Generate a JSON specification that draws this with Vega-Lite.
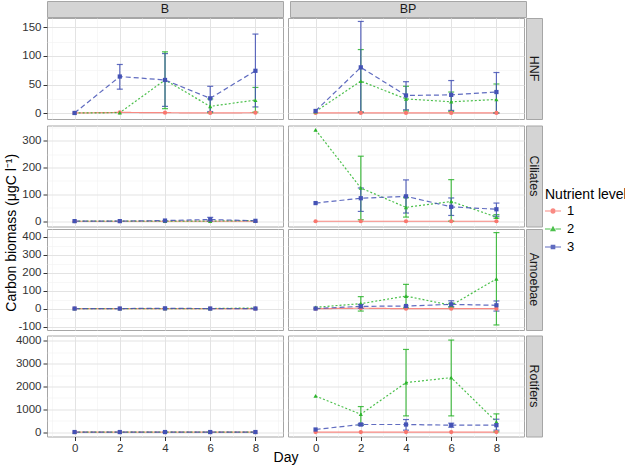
{
  "$schema": "https://vega.github.io/schema/vega-lite/v6.json",
  "padding": {"left": 4, "top": 0, "right": 0, "bottom": 0},
  "autosize": {"type": "pad"},
  "title": {"text": "Carbon biomass (μgC l⁻¹)", "orient": "left", "anchor": "middle", "frame": "bounds", "font": "Liberation Sans", "fontSize": 14, "fontWeight": "normal", "color": "#000000", "offset": -4},
  "datasets": {
    "d": [
      {"tax":"HNF","trt":"B","lvl":"1","day":0,"v":0.5},
      {"tax":"HNF","trt":"B","lvl":"1","day":2,"v":1.5},
      {"tax":"HNF","trt":"B","lvl":"1","day":4,"v":1},
      {"tax":"HNF","trt":"B","lvl":"1","day":6,"v":0.5},
      {"tax":"HNF","trt":"B","lvl":"1","day":8,"v":1},
      {"tax":"HNF","trt":"B","lvl":"2","day":0,"v":0.5},
      {"tax":"HNF","trt":"B","lvl":"2","day":2,"v":1},
      {"tax":"HNF","trt":"B","lvl":"2","day":4,"v":58,"lo":8,"hi":107},
      {"tax":"HNF","trt":"B","lvl":"2","day":6,"v":12,"lo":1,"hi":25},
      {"tax":"HNF","trt":"B","lvl":"2","day":8,"v":23,"lo":2,"hi":45},
      {"tax":"HNF","trt":"B","lvl":"3","day":0,"v":0.5},
      {"tax":"HNF","trt":"B","lvl":"3","day":2,"v":64,"lo":42,"hi":85},
      {"tax":"HNF","trt":"B","lvl":"3","day":4,"v":58,"lo":12,"hi":104},
      {"tax":"HNF","trt":"B","lvl":"3","day":6,"v":26,"lo":3,"hi":47},
      {"tax":"HNF","trt":"B","lvl":"3","day":8,"v":74,"lo":11,"hi":138},

      {"tax":"HNF","trt":"BP","lvl":"1","day":0,"v":0.5},
      {"tax":"HNF","trt":"BP","lvl":"1","day":2,"v":0.5},
      {"tax":"HNF","trt":"BP","lvl":"1","day":4,"v":0.5},
      {"tax":"HNF","trt":"BP","lvl":"1","day":6,"v":0.5},
      {"tax":"HNF","trt":"BP","lvl":"1","day":8,"v":0.5},
      {"tax":"HNF","trt":"BP","lvl":"2","day":0,"v":3},
      {"tax":"HNF","trt":"BP","lvl":"2","day":2,"v":56,"lo":2,"hi":111},
      {"tax":"HNF","trt":"BP","lvl":"2","day":4,"v":25,"lo":4,"hi":47},
      {"tax":"HNF","trt":"BP","lvl":"2","day":6,"v":20,"lo":3,"hi":37},
      {"tax":"HNF","trt":"BP","lvl":"2","day":8,"v":24,"lo":1,"hi":51},
      {"tax":"HNF","trt":"BP","lvl":"3","day":0,"v":4},
      {"tax":"HNF","trt":"BP","lvl":"3","day":2,"v":80,"lo":2,"hi":160},
      {"tax":"HNF","trt":"BP","lvl":"3","day":4,"v":31,"lo":6,"hi":55},
      {"tax":"HNF","trt":"BP","lvl":"3","day":6,"v":32,"lo":5,"hi":57},
      {"tax":"HNF","trt":"BP","lvl":"3","day":8,"v":37,"lo":0,"hi":71},

      {"tax":"Ciliates","trt":"B","lvl":"1","day":0,"v":0.5},
      {"tax":"Ciliates","trt":"B","lvl":"1","day":2,"v":0.5},
      {"tax":"Ciliates","trt":"B","lvl":"1","day":4,"v":0.5},
      {"tax":"Ciliates","trt":"B","lvl":"1","day":6,"v":0.5},
      {"tax":"Ciliates","trt":"B","lvl":"1","day":8,"v":0.5},
      {"tax":"Ciliates","trt":"B","lvl":"2","day":0,"v":1},
      {"tax":"Ciliates","trt":"B","lvl":"2","day":2,"v":1},
      {"tax":"Ciliates","trt":"B","lvl":"2","day":4,"v":1},
      {"tax":"Ciliates","trt":"B","lvl":"2","day":6,"v":1},
      {"tax":"Ciliates","trt":"B","lvl":"2","day":8,"v":3},
      {"tax":"Ciliates","trt":"B","lvl":"3","day":0,"v":1},
      {"tax":"Ciliates","trt":"B","lvl":"3","day":2,"v":1},
      {"tax":"Ciliates","trt":"B","lvl":"3","day":4,"v":3},
      {"tax":"Ciliates","trt":"B","lvl":"3","day":6,"v":7,"lo":1,"hi":15},
      {"tax":"Ciliates","trt":"B","lvl":"3","day":8,"v":2},

      {"tax":"Ciliates","trt":"BP","lvl":"1","day":0,"v":0.5},
      {"tax":"Ciliates","trt":"BP","lvl":"1","day":2,"v":0.5},
      {"tax":"Ciliates","trt":"BP","lvl":"1","day":4,"v":0.5},
      {"tax":"Ciliates","trt":"BP","lvl":"1","day":6,"v":0.5},
      {"tax":"Ciliates","trt":"BP","lvl":"1","day":8,"v":0.5},
      {"tax":"Ciliates","trt":"BP","lvl":"2","day":0,"v":340},
      {"tax":"Ciliates","trt":"BP","lvl":"2","day":2,"v":124,"lo":6,"hi":242},
      {"tax":"Ciliates","trt":"BP","lvl":"2","day":4,"v":52,"lo":16,"hi":88},
      {"tax":"Ciliates","trt":"BP","lvl":"2","day":6,"v":74,"lo":1,"hi":155},
      {"tax":"Ciliates","trt":"BP","lvl":"2","day":8,"v":16,"lo":12,"hi":25},
      {"tax":"Ciliates","trt":"BP","lvl":"3","day":0,"v":68},
      {"tax":"Ciliates","trt":"BP","lvl":"3","day":2,"v":86,"lo":37,"hi":124},
      {"tax":"Ciliates","trt":"BP","lvl":"3","day":4,"v":93,"lo":31,"hi":154},
      {"tax":"Ciliates","trt":"BP","lvl":"3","day":6,"v":54,"lo":22,"hi":87},
      {"tax":"Ciliates","trt":"BP","lvl":"3","day":8,"v":45,"lo":19,"hi":68},

      {"tax":"Amoebae","trt":"B","lvl":"1","day":0,"v":1},
      {"tax":"Amoebae","trt":"B","lvl":"1","day":2,"v":1},
      {"tax":"Amoebae","trt":"B","lvl":"1","day":4,"v":1},
      {"tax":"Amoebae","trt":"B","lvl":"1","day":6,"v":1},
      {"tax":"Amoebae","trt":"B","lvl":"1","day":8,"v":1},
      {"tax":"Amoebae","trt":"B","lvl":"2","day":0,"v":1},
      {"tax":"Amoebae","trt":"B","lvl":"2","day":2,"v":1},
      {"tax":"Amoebae","trt":"B","lvl":"2","day":4,"v":1},
      {"tax":"Amoebae","trt":"B","lvl":"2","day":6,"v":1},
      {"tax":"Amoebae","trt":"B","lvl":"2","day":8,"v":4},
      {"tax":"Amoebae","trt":"B","lvl":"3","day":0,"v":1},
      {"tax":"Amoebae","trt":"B","lvl":"3","day":2,"v":1},
      {"tax":"Amoebae","trt":"B","lvl":"3","day":4,"v":2},
      {"tax":"Amoebae","trt":"B","lvl":"3","day":6,"v":1},
      {"tax":"Amoebae","trt":"B","lvl":"3","day":8,"v":1},

      {"tax":"Amoebae","trt":"BP","lvl":"1","day":0,"v":0},
      {"tax":"Amoebae","trt":"BP","lvl":"1","day":2,"v":3},
      {"tax":"Amoebae","trt":"BP","lvl":"1","day":4,"v":0},
      {"tax":"Amoebae","trt":"BP","lvl":"1","day":6,"v":0},
      {"tax":"Amoebae","trt":"BP","lvl":"1","day":8,"v":0},
      {"tax":"Amoebae","trt":"BP","lvl":"2","day":0,"v":8},
      {"tax":"Amoebae","trt":"BP","lvl":"2","day":2,"v":28,"lo":-13,"hi":67},
      {"tax":"Amoebae","trt":"BP","lvl":"2","day":4,"v":70,"lo":5,"hi":135},
      {"tax":"Amoebae","trt":"BP","lvl":"2","day":6,"v":19,"lo":9,"hi":30},
      {"tax":"Amoebae","trt":"BP","lvl":"2","day":8,"v":165,"lo":-90,"hi":422},
      {"tax":"Amoebae","trt":"BP","lvl":"3","day":0,"v":1},
      {"tax":"Amoebae","trt":"BP","lvl":"3","day":2,"v":13,"lo":2,"hi":24},
      {"tax":"Amoebae","trt":"BP","lvl":"3","day":4,"v":15},
      {"tax":"Amoebae","trt":"BP","lvl":"3","day":6,"v":24,"lo":11,"hi":44},
      {"tax":"Amoebae","trt":"BP","lvl":"3","day":8,"v":19,"lo":-13,"hi":43},

      {"tax":"Rotifers","trt":"B","lvl":"1","day":0,"v":2},
      {"tax":"Rotifers","trt":"B","lvl":"1","day":2,"v":2},
      {"tax":"Rotifers","trt":"B","lvl":"1","day":4,"v":2},
      {"tax":"Rotifers","trt":"B","lvl":"1","day":6,"v":2},
      {"tax":"Rotifers","trt":"B","lvl":"1","day":8,"v":2},
      {"tax":"Rotifers","trt":"B","lvl":"2","day":0,"v":5},
      {"tax":"Rotifers","trt":"B","lvl":"2","day":2,"v":5},
      {"tax":"Rotifers","trt":"B","lvl":"2","day":4,"v":5},
      {"tax":"Rotifers","trt":"B","lvl":"2","day":6,"v":5},
      {"tax":"Rotifers","trt":"B","lvl":"2","day":8,"v":5},
      {"tax":"Rotifers","trt":"B","lvl":"3","day":0,"v":5},
      {"tax":"Rotifers","trt":"B","lvl":"3","day":2,"v":5},
      {"tax":"Rotifers","trt":"B","lvl":"3","day":4,"v":5},
      {"tax":"Rotifers","trt":"B","lvl":"3","day":6,"v":5},
      {"tax":"Rotifers","trt":"B","lvl":"3","day":8,"v":5},

      {"tax":"Rotifers","trt":"BP","lvl":"1","day":0,"v":5},
      {"tax":"Rotifers","trt":"BP","lvl":"1","day":2,"v":5},
      {"tax":"Rotifers","trt":"BP","lvl":"1","day":4,"v":5},
      {"tax":"Rotifers","trt":"BP","lvl":"1","day":6,"v":5},
      {"tax":"Rotifers","trt":"BP","lvl":"1","day":8,"v":5},
      {"tax":"Rotifers","trt":"BP","lvl":"2","day":0,"v":1585},
      {"tax":"Rotifers","trt":"BP","lvl":"2","day":2,"v":785,"lo":305,"hi":1120},
      {"tax":"Rotifers","trt":"BP","lvl":"2","day":4,"v":2168,"lo":712,"hi":3620},
      {"tax":"Rotifers","trt":"BP","lvl":"2","day":6,"v":2386,"lo":712,"hi":4030},
      {"tax":"Rotifers","trt":"BP","lvl":"2","day":8,"v":450,"lo":15,"hi":800},
      {"tax":"Rotifers","trt":"BP","lvl":"3","day":0,"v":116},
      {"tax":"Rotifers","trt":"BP","lvl":"3","day":2,"v":335,"lo":290,"hi":380},
      {"tax":"Rotifers","trt":"BP","lvl":"3","day":4,"v":335,"lo":87,"hi":553},
      {"tax":"Rotifers","trt":"BP","lvl":"3","day":6,"v":305,"lo":218,"hi":393},
      {"tax":"Rotifers","trt":"BP","lvl":"3","day":8,"v":305,"lo":87,"hi":567}
    ]
  },
  "spacing": -5.5,
  "resolve": {"scale": {"x": "independent", "y": "independent", "color": "shared", "shape": "shared", "strokeDash": "shared"}},
  "vconcat": [
    {
      "hconcat": [
        {"width": 236, "height": 16, "data": {"values": [{"s": "B"}]}, "mark": {"type": "text", "font": "Liberation Sans", "fontSize": 12.5, "color": "#1a1a1a"}, "encoding": {"text": {"field": "s"}}, "view": {"fill": "#d4d4d4", "stroke": "#a6a6a6"}},
        {"width": 236, "height": 16, "data": {"values": [{"s": "BP"}]}, "mark": {"type": "text", "font": "Liberation Sans", "fontSize": 12.5, "color": "#1a1a1a"}, "encoding": {"text": {"field": "s"}}, "view": {"fill": "#d4d4d4", "stroke": "#a6a6a6"}}
      ],
      "spacing": 5
    },
    {
      "spacing": 0.5,
      "resolve": {"scale": {"x": "independent", "y": "independent", "color": "shared", "shape": "shared", "strokeDash": "shared"}},
      "vconcat": [
        {
          "spacing": 0,
          "resolve": {"scale": {"x": "independent", "y": "independent", "color": "shared", "shape": "shared", "strokeDash": "shared"}},
          "hconcat": [
            {
              "spacing": 5, "bounds": "flush",
              "resolve": {"scale": {"x": "independent", "y": "independent", "color": "shared", "shape": "shared", "strokeDash": "shared"}},
              "hconcat": [
                {
                  "width": 236, "height": 101,
                  "data": {"name": "d"},
                  "transform": [{"filter": "datum.tax === 'HNF' && datum.trt === 'B'"}],
                  "encoding": {
                    "x": {"field": "day", "type": "quantitative", "scale": {"domain": [-1.22, 9.22], "nice": false, "zero": false}, "axis": {"values": [-1,0,1,2,3,4,5,6,7,8,9], "labels": false, "ticks": false, "title": null, "gridColor": {"condition": {"test": "datum.value % 2 === 0", "value": "#e3e3e3"}, "value": "#f1f1f1"}, "gridWidth": {"condition": {"test": "datum.value % 2 === 0", "value": 1}, "value": 0.6}}},
                    "y": {"field": "v", "type": "quantitative", "scale": {"domain": [-10, 166], "nice": false, "zero": false}, "axis": {"values": [0,25,50,75,100,125,150], "labelExpr": "datum.value % 50 === 0 ? '' + datum.value : ''", "tickOpacity": {"condition": {"test": "datum.value % 50 === 0", "value": 1}, "value": 0}, "title": null, "gridColor": {"condition": {"test": "datum.value % 50 === 0", "value": "#e3e3e3"}, "value": "#f1f1f1"}, "gridWidth": {"condition": {"test": "datum.value % 50 === 0", "value": 1}, "value": 0.6}}},
                    "color": {"field": "lvl", "type": "nominal", "scale": {"domain": ["1","2","3"], "range": ["#F8766D","#2DB52D","#4452B5"]}, "legend": {"title": "Nutrient level", "orient": "none", "legendX": 498, "legendY": 187, "symbolSize": 256, "symbolStrokeWidth": 0, "symbolType": {"expr": "datum.value === '1' ? 'M-1,-0.07H-0.3V0.07H-1ZM0.3,-0.07H1V0.07H0.3ZM-0.34,0A0.34,0.34,0,1,0,0.34,0A0.34,0.34,0,1,0,-0.34,0Z' : datum.value === '2' ? 'M-1,-0.07H-0.3V0.07H-1ZM0.3,-0.07H1V0.07H0.3ZM0,-0.4L0.38,0.28L-0.38,0.28Z' : 'M-1,-0.07H-0.28V0.07H-1ZM0.28,-0.07H1V0.07H0.28ZM-0.29,-0.29H0.29V0.29H-0.29Z'"}, "labelFont": "Liberation Sans", "labelFontSize": 13, "labelColor": "#000000", "titleFont": "Liberation Sans", "titleFontSize": 14, "titleFontWeight": "normal", "titleColor": "#000000", "rowPadding": 3, "labelOffset": 6, "titlePadding": 1, "padding": 0}}
                  },
                  "layer": [
                    {"mark": {"type": "line", "strokeWidth": 1.2, "opacity": 0.85}, "encoding": {"strokeDash": {"field": "lvl", "type": "nominal", "scale": {"range": [[1,0],[2,2],[5,3]]}, "legend": null}}},
                    {"transform": [{"filter": "isValid(datum.lo)"}], "mark": {"type": "errorbar", "ticks": {"size": 6}, "thickness": 1.2, "opacity": 0.85}, "encoding": {"y": {"field": "lo", "type": "quantitative"}, "y2": {"field": "hi"}}},
                    {"mark": {"type": "point", "filled": true, "opacity": 1, "size": 18}, "encoding": {"shape": {"field": "lvl", "type": "nominal", "scale": {"range": ["circle","triangle-up","square"]}, "legend": null}}}
                  ]
                },
                {
                  "width": 236, "height": 101,
                  "data": {"name": "d"},
                  "transform": [{"filter": "datum.tax === 'HNF' && datum.trt === 'BP'"}],
                  "encoding": {
                    "x": {"field": "day", "type": "quantitative", "scale": {"domain": [-1.22, 9.22], "nice": false, "zero": false}, "axis": {"values": [-1,0,1,2,3,4,5,6,7,8,9], "labels": false, "ticks": false, "title": null, "gridColor": {"condition": {"test": "datum.value % 2 === 0", "value": "#e3e3e3"}, "value": "#f1f1f1"}, "gridWidth": {"condition": {"test": "datum.value % 2 === 0", "value": 1}, "value": 0.6}}},
                    "y": {"field": "v", "type": "quantitative", "scale": {"domain": [-10, 166], "nice": false, "zero": false}, "axis": {"values": [0,25,50,75,100,125,150], "labels": false, "ticks": false, "title": null, "gridColor": {"condition": {"test": "datum.value % 50 === 0", "value": "#e3e3e3"}, "value": "#f1f1f1"}, "gridWidth": {"condition": {"test": "datum.value % 50 === 0", "value": 1}, "value": 0.6}}},
                    "color": {"field": "lvl", "type": "nominal", "scale": {"domain": ["1","2","3"], "range": ["#F8766D","#2DB52D","#4452B5"]}}
                  },
                  "layer": [
                    {"mark": {"type": "line", "strokeWidth": 1.2, "opacity": 0.85}, "encoding": {"strokeDash": {"field": "lvl", "type": "nominal", "scale": {"range": [[1,0],[2,2],[5,3]]}, "legend": null}}},
                    {"transform": [{"filter": "isValid(datum.lo)"}], "mark": {"type": "errorbar", "ticks": {"size": 6}, "thickness": 1.2, "opacity": 0.85}, "encoding": {"y": {"field": "lo", "type": "quantitative"}, "y2": {"field": "hi"}}},
                    {"mark": {"type": "point", "filled": true, "opacity": 1, "size": 18}, "encoding": {"shape": {"field": "lvl", "type": "nominal", "scale": {"range": ["circle","triangle-up","square"]}, "legend": null}}}
                  ]
                }
              ]
            },
            {"width": 16, "height": 101, "data": {"values": [{"s": "HNF"}]}, "mark": {"type": "text", "font": "Liberation Sans", "fontSize": 12.5, "color": "#1a1a1a", "angle": 90}, "encoding": {"text": {"field": "s"}}, "view": {"fill": "#d4d4d4", "stroke": "#a6a6a6"}}
          ]
        },
        {
          "spacing": 0,
          "resolve": {"scale": {"x": "independent", "y": "independent", "color": "shared", "shape": "shared", "strokeDash": "shared"}},
          "hconcat": [
            {
              "spacing": 5, "bounds": "flush",
              "resolve": {"scale": {"x": "independent", "y": "independent", "color": "shared", "shape": "shared", "strokeDash": "shared"}},
              "hconcat": [
                {
                  "width": 236, "height": 101,
                  "data": {"name": "d"},
                  "transform": [{"filter": "datum.tax === 'Ciliates' && datum.trt === 'B'"}],
                  "encoding": {
                    "x": {"field": "day", "type": "quantitative", "scale": {"domain": [-1.22, 9.22], "nice": false, "zero": false}, "axis": {"values": [-1,0,1,2,3,4,5,6,7,8,9], "labels": false, "ticks": false, "title": null, "gridColor": {"condition": {"test": "datum.value % 2 === 0", "value": "#e3e3e3"}, "value": "#f1f1f1"}, "gridWidth": {"condition": {"test": "datum.value % 2 === 0", "value": 1}, "value": 0.6}}},
                    "y": {"field": "v", "type": "quantitative", "scale": {"domain": [-19, 356], "nice": false, "zero": false}, "axis": {"values": [0,50,100,150,200,250,300,350], "labelExpr": "datum.value % 100 === 0 ? '' + datum.value : ''", "tickOpacity": {"condition": {"test": "datum.value % 100 === 0", "value": 1}, "value": 0}, "title": null, "gridColor": {"condition": {"test": "datum.value % 100 === 0", "value": "#e3e3e3"}, "value": "#f1f1f1"}, "gridWidth": {"condition": {"test": "datum.value % 100 === 0", "value": 1}, "value": 0.6}}},
                    "color": {"field": "lvl", "type": "nominal", "scale": {"domain": ["1","2","3"], "range": ["#F8766D","#2DB52D","#4452B5"]}}
                  },
                  "layer": [
                    {"mark": {"type": "line", "strokeWidth": 1.2, "opacity": 0.85}, "encoding": {"strokeDash": {"field": "lvl", "type": "nominal", "scale": {"range": [[1,0],[2,2],[5,3]]}, "legend": null}}},
                    {"transform": [{"filter": "isValid(datum.lo)"}], "mark": {"type": "errorbar", "ticks": {"size": 6}, "thickness": 1.2, "opacity": 0.85}, "encoding": {"y": {"field": "lo", "type": "quantitative"}, "y2": {"field": "hi"}}},
                    {"mark": {"type": "point", "filled": true, "opacity": 1, "size": 18}, "encoding": {"shape": {"field": "lvl", "type": "nominal", "scale": {"range": ["circle","triangle-up","square"]}, "legend": null}}}
                  ]
                },
                {
                  "width": 236, "height": 101,
                  "data": {"name": "d"},
                  "transform": [{"filter": "datum.tax === 'Ciliates' && datum.trt === 'BP'"}],
                  "encoding": {
                    "x": {"field": "day", "type": "quantitative", "scale": {"domain": [-1.22, 9.22], "nice": false, "zero": false}, "axis": {"values": [-1,0,1,2,3,4,5,6,7,8,9], "labels": false, "ticks": false, "title": null, "gridColor": {"condition": {"test": "datum.value % 2 === 0", "value": "#e3e3e3"}, "value": "#f1f1f1"}, "gridWidth": {"condition": {"test": "datum.value % 2 === 0", "value": 1}, "value": 0.6}}},
                    "y": {"field": "v", "type": "quantitative", "scale": {"domain": [-19, 356], "nice": false, "zero": false}, "axis": {"values": [0,50,100,150,200,250,300,350], "labels": false, "ticks": false, "title": null, "gridColor": {"condition": {"test": "datum.value % 100 === 0", "value": "#e3e3e3"}, "value": "#f1f1f1"}, "gridWidth": {"condition": {"test": "datum.value % 100 === 0", "value": 1}, "value": 0.6}}},
                    "color": {"field": "lvl", "type": "nominal", "scale": {"domain": ["1","2","3"], "range": ["#F8766D","#2DB52D","#4452B5"]}}
                  },
                  "layer": [
                    {"mark": {"type": "line", "strokeWidth": 1.2, "opacity": 0.85}, "encoding": {"strokeDash": {"field": "lvl", "type": "nominal", "scale": {"range": [[1,0],[2,2],[5,3]]}, "legend": null}}},
                    {"transform": [{"filter": "isValid(datum.lo)"}], "mark": {"type": "errorbar", "ticks": {"size": 6}, "thickness": 1.2, "opacity": 0.85}, "encoding": {"y": {"field": "lo", "type": "quantitative"}, "y2": {"field": "hi"}}},
                    {"mark": {"type": "point", "filled": true, "opacity": 1, "size": 18}, "encoding": {"shape": {"field": "lvl", "type": "nominal", "scale": {"range": ["circle","triangle-up","square"]}, "legend": null}}}
                  ]
                }
              ]
            },
            {"width": 16, "height": 101, "data": {"values": [{"s": "Ciliates"}]}, "mark": {"type": "text", "font": "Liberation Sans", "fontSize": 12.5, "color": "#1a1a1a", "angle": 90}, "encoding": {"text": {"field": "s"}}, "view": {"fill": "#d4d4d4", "stroke": "#a6a6a6"}}
          ]
        },
        {
          "spacing": 0,
          "resolve": {"scale": {"x": "independent", "y": "independent", "color": "shared", "shape": "shared", "strokeDash": "shared"}},
          "hconcat": [
            {
              "spacing": 5, "bounds": "flush",
              "resolve": {"scale": {"x": "independent", "y": "independent", "color": "shared", "shape": "shared", "strokeDash": "shared"}},
              "hconcat": [
                {
                  "width": 236, "height": 101,
                  "data": {"name": "d"},
                  "transform": [{"filter": "datum.tax === 'Amoebae' && datum.trt === 'B'"}],
                  "encoding": {
                    "x": {"field": "day", "type": "quantitative", "scale": {"domain": [-1.22, 9.22], "nice": false, "zero": false}, "axis": {"values": [-1,0,1,2,3,4,5,6,7,8,9], "labels": false, "ticks": false, "title": null, "gridColor": {"condition": {"test": "datum.value % 2 === 0", "value": "#e3e3e3"}, "value": "#f1f1f1"}, "gridWidth": {"condition": {"test": "datum.value % 2 === 0", "value": 1}, "value": 0.6}}},
                    "y": {"field": "v", "type": "quantitative", "scale": {"domain": [-118, 442], "nice": false, "zero": false}, "axis": {"values": [-100,-50,0,50,100,150,200,250,300,350,400], "labelExpr": "datum.value % 100 === 0 ? '' + datum.value : ''", "tickOpacity": {"condition": {"test": "datum.value % 100 === 0", "value": 1}, "value": 0}, "title": null, "gridColor": {"condition": {"test": "datum.value % 100 === 0", "value": "#e3e3e3"}, "value": "#f1f1f1"}, "gridWidth": {"condition": {"test": "datum.value % 100 === 0", "value": 1}, "value": 0.6}}},
                    "color": {"field": "lvl", "type": "nominal", "scale": {"domain": ["1","2","3"], "range": ["#F8766D","#2DB52D","#4452B5"]}}
                  },
                  "layer": [
                    {"mark": {"type": "line", "strokeWidth": 1.2, "opacity": 0.85}, "encoding": {"strokeDash": {"field": "lvl", "type": "nominal", "scale": {"range": [[1,0],[2,2],[5,3]]}, "legend": null}}},
                    {"transform": [{"filter": "isValid(datum.lo)"}], "mark": {"type": "errorbar", "ticks": {"size": 6}, "thickness": 1.2, "opacity": 0.85}, "encoding": {"y": {"field": "lo", "type": "quantitative"}, "y2": {"field": "hi"}}},
                    {"mark": {"type": "point", "filled": true, "opacity": 1, "size": 18}, "encoding": {"shape": {"field": "lvl", "type": "nominal", "scale": {"range": ["circle","triangle-up","square"]}, "legend": null}}}
                  ]
                },
                {
                  "width": 236, "height": 101,
                  "data": {"name": "d"},
                  "transform": [{"filter": "datum.tax === 'Amoebae' && datum.trt === 'BP'"}],
                  "encoding": {
                    "x": {"field": "day", "type": "quantitative", "scale": {"domain": [-1.22, 9.22], "nice": false, "zero": false}, "axis": {"values": [-1,0,1,2,3,4,5,6,7,8,9], "labels": false, "ticks": false, "title": null, "gridColor": {"condition": {"test": "datum.value % 2 === 0", "value": "#e3e3e3"}, "value": "#f1f1f1"}, "gridWidth": {"condition": {"test": "datum.value % 2 === 0", "value": 1}, "value": 0.6}}},
                    "y": {"field": "v", "type": "quantitative", "scale": {"domain": [-118, 442], "nice": false, "zero": false}, "axis": {"values": [-100,-50,0,50,100,150,200,250,300,350,400], "labels": false, "ticks": false, "title": null, "gridColor": {"condition": {"test": "datum.value % 100 === 0", "value": "#e3e3e3"}, "value": "#f1f1f1"}, "gridWidth": {"condition": {"test": "datum.value % 100 === 0", "value": 1}, "value": 0.6}}},
                    "color": {"field": "lvl", "type": "nominal", "scale": {"domain": ["1","2","3"], "range": ["#F8766D","#2DB52D","#4452B5"]}}
                  },
                  "layer": [
                    {"mark": {"type": "line", "strokeWidth": 1.2, "opacity": 0.85}, "encoding": {"strokeDash": {"field": "lvl", "type": "nominal", "scale": {"range": [[1,0],[2,2],[5,3]]}, "legend": null}}},
                    {"transform": [{"filter": "isValid(datum.lo)"}], "mark": {"type": "errorbar", "ticks": {"size": 6}, "thickness": 1.2, "opacity": 0.85}, "encoding": {"y": {"field": "lo", "type": "quantitative"}, "y2": {"field": "hi"}}},
                    {"mark": {"type": "point", "filled": true, "opacity": 1, "size": 18}, "encoding": {"shape": {"field": "lvl", "type": "nominal", "scale": {"range": ["circle","triangle-up","square"]}, "legend": null}}}
                  ]
                }
              ]
            },
            {"width": 16, "height": 101, "data": {"values": [{"s": "Amoebae"}]}, "mark": {"type": "text", "font": "Liberation Sans", "fontSize": 12.5, "color": "#1a1a1a", "angle": 90}, "encoding": {"text": {"field": "s"}}, "view": {"fill": "#d4d4d4", "stroke": "#a6a6a6"}}
          ]
        },
        {
          "spacing": 0,
          "resolve": {"scale": {"x": "independent", "y": "independent", "color": "shared", "shape": "shared", "strokeDash": "shared"}},
          "hconcat": [
            {
              "spacing": 5, "bounds": "flush",
              "resolve": {"scale": {"x": "independent", "y": "independent", "color": "shared", "shape": "shared", "strokeDash": "shared"}},
              "hconcat": [
                {
                  "width": 236, "height": 101,
                  "data": {"name": "d"},
                  "transform": [{"filter": "datum.tax === 'Rotifers' && datum.trt === 'B'"}],
                  "encoding": {
                    "x": {"field": "day", "type": "quantitative", "scale": {"domain": [-1.22, 9.22], "nice": false, "zero": false}, "axis": {"values": [-1,0,1,2,3,4,5,6,7,8,9], "labelExpr": "datum.value % 2 === 0 ? datum.label : ''", "tickOpacity": {"condition": {"test": "datum.value % 2 === 0", "value": 1}, "value": 0}, "title": "Day", "titleX": 238.5, "titleY": 14, "titleBaseline": "top", "titleAlign": "center", "gridColor": {"condition": {"test": "datum.value % 2 === 0", "value": "#e3e3e3"}, "value": "#f1f1f1"}, "gridWidth": {"condition": {"test": "datum.value % 2 === 0", "value": 1}, "value": 0.6}}},
                    "y": {"field": "v", "type": "quantitative", "scale": {"domain": [-190, 4230], "nice": false, "zero": false}, "axis": {"values": [0,500,1000,1500,2000,2500,3000,3500,4000], "labelExpr": "datum.value % 1000 === 0 ? '' + datum.value : ''", "tickOpacity": {"condition": {"test": "datum.value % 1000 === 0", "value": 1}, "value": 0}, "title": null, "gridColor": {"condition": {"test": "datum.value % 1000 === 0", "value": "#e3e3e3"}, "value": "#f1f1f1"}, "gridWidth": {"condition": {"test": "datum.value % 1000 === 0", "value": 1}, "value": 0.6}}},
                    "color": {"field": "lvl", "type": "nominal", "scale": {"domain": ["1","2","3"], "range": ["#F8766D","#2DB52D","#4452B5"]}}
                  },
                  "layer": [
                    {"mark": {"type": "line", "strokeWidth": 1.2, "opacity": 0.85}, "encoding": {"strokeDash": {"field": "lvl", "type": "nominal", "scale": {"range": [[1,0],[2,2],[5,3]]}, "legend": null}}},
                    {"transform": [{"filter": "isValid(datum.lo)"}], "mark": {"type": "errorbar", "ticks": {"size": 6}, "thickness": 1.2, "opacity": 0.85}, "encoding": {"y": {"field": "lo", "type": "quantitative"}, "y2": {"field": "hi"}}},
                    {"mark": {"type": "point", "filled": true, "opacity": 1, "size": 18}, "encoding": {"shape": {"field": "lvl", "type": "nominal", "scale": {"range": ["circle","triangle-up","square"]}, "legend": null}}}
                  ]
                },
                {
                  "width": 236, "height": 101,
                  "data": {"name": "d"},
                  "transform": [{"filter": "datum.tax === 'Rotifers' && datum.trt === 'BP'"}],
                  "encoding": {
                    "x": {"field": "day", "type": "quantitative", "scale": {"domain": [-1.22, 9.22], "nice": false, "zero": false}, "axis": {"values": [-1,0,1,2,3,4,5,6,7,8,9], "labelExpr": "datum.value % 2 === 0 ? datum.label : ''", "tickOpacity": {"condition": {"test": "datum.value % 2 === 0", "value": 1}, "value": 0}, "title": null, "gridColor": {"condition": {"test": "datum.value % 2 === 0", "value": "#e3e3e3"}, "value": "#f1f1f1"}, "gridWidth": {"condition": {"test": "datum.value % 2 === 0", "value": 1}, "value": 0.6}}},
                    "y": {"field": "v", "type": "quantitative", "scale": {"domain": [-190, 4230], "nice": false, "zero": false}, "axis": {"values": [0,500,1000,1500,2000,2500,3000,3500,4000], "labels": false, "ticks": false, "title": null, "gridColor": {"condition": {"test": "datum.value % 1000 === 0", "value": "#e3e3e3"}, "value": "#f1f1f1"}, "gridWidth": {"condition": {"test": "datum.value % 1000 === 0", "value": 1}, "value": 0.6}}},
                    "color": {"field": "lvl", "type": "nominal", "scale": {"domain": ["1","2","3"], "range": ["#F8766D","#2DB52D","#4452B5"]}}
                  },
                  "layer": [
                    {"mark": {"type": "line", "strokeWidth": 1.2, "opacity": 0.85}, "encoding": {"strokeDash": {"field": "lvl", "type": "nominal", "scale": {"range": [[1,0],[2,2],[5,3]]}, "legend": null}}},
                    {"transform": [{"filter": "isValid(datum.lo)"}], "mark": {"type": "errorbar", "ticks": {"size": 6}, "thickness": 1.2, "opacity": 0.85}, "encoding": {"y": {"field": "lo", "type": "quantitative"}, "y2": {"field": "hi"}}},
                    {"mark": {"type": "point", "filled": true, "opacity": 1, "size": 18}, "encoding": {"shape": {"field": "lvl", "type": "nominal", "scale": {"range": ["circle","triangle-up","square"]}, "legend": null}}}
                  ]
                }
              ]
            },
            {"width": 16, "height": 101, "data": {"values": [{"s": "Rotifers"}]}, "mark": {"type": "text", "font": "Liberation Sans", "fontSize": 12.5, "color": "#1a1a1a", "angle": 90}, "encoding": {"text": {"field": "s"}}, "view": {"fill": "#d4d4d4", "stroke": "#a6a6a6"}}
          ]
        }
      ]
    }
  ],
  "config": {
    "view": {"stroke": "#a6a6a6", "strokeWidth": 1, "fill": "white"},
    "axis": {"domain": false, "labelFont": "Liberation Sans", "labelFontSize": 11.5, "labelColor": "#333333", "tickColor": "#333333", "tickSize": 4, "tickWidth": 1, "labelPadding": 2, "labelOverlap": false, "labelFlush": false, "titleFont": "Liberation Sans", "titleFontSize": 14, "titleFontWeight": "normal", "titleColor": "#000000"}
  }
}
